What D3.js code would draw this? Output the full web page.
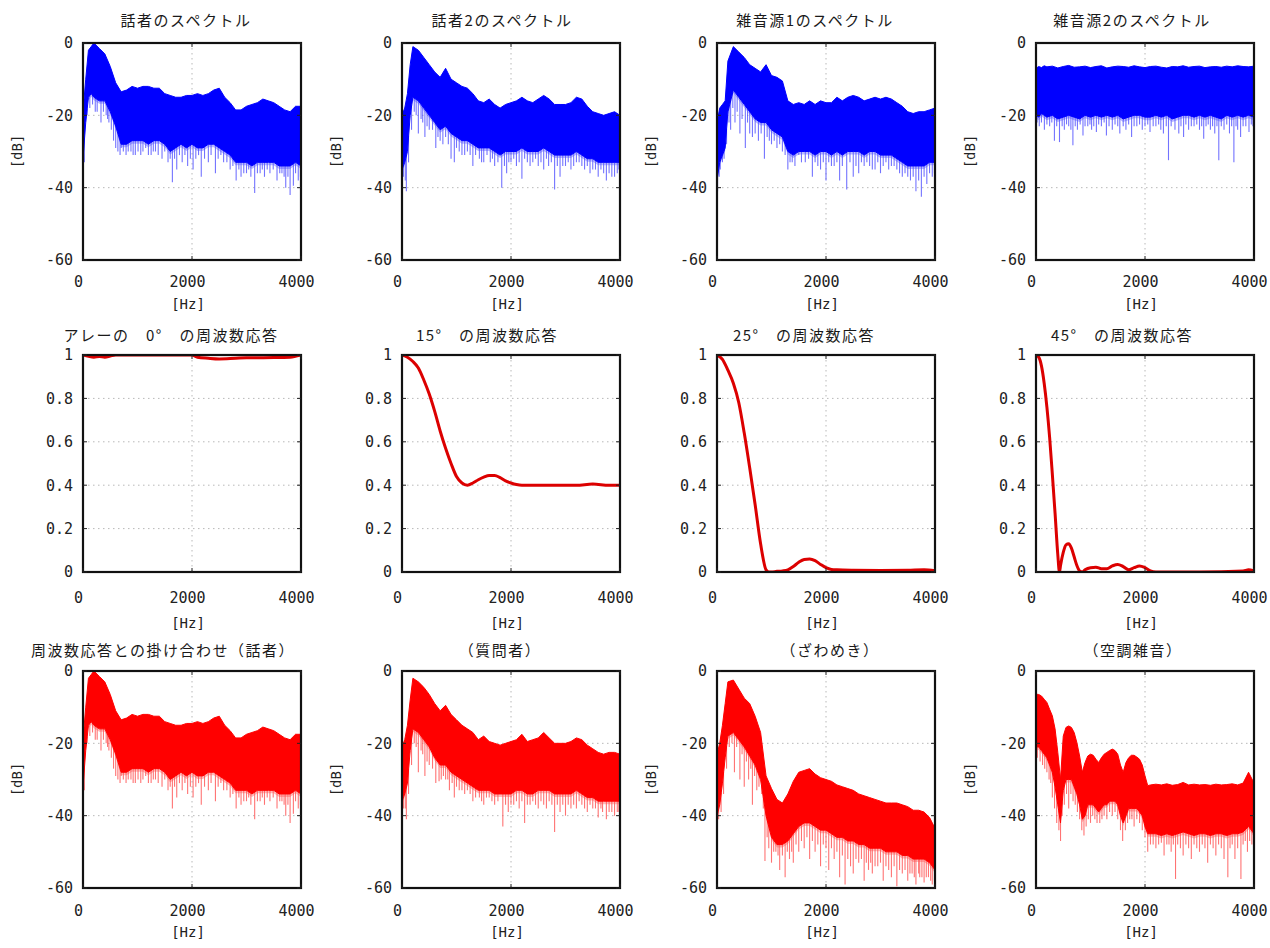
<!DOCTYPE html>
<html lang="ja">
<head>
<meta charset="utf-8">
<title>マイクロホンアレーの周波数応答とスペクトル</title>
<script src="https://cdn.jsdelivr.net/npm/d3@7/dist/d3.min.js"></script>
<style>
  html, body { margin: 0; padding: 0; background: #fff; }
  svg { display: block; }
  .title { font-family: "Noto Sans CJK JP", sans-serif; font-size: 15px; letter-spacing: 1.5px; fill: #1a1a1a; }
  .tick text { font-family: "DejaVu Sans Mono", monospace; font-size: 15px; fill: #222; }
  .unit { font-family: "DejaVu Sans Mono", monospace; font-size: 14px; fill: #222; }
</style>
</head>
<body>
<svg id="fig" width="1270" height="948"></svg>
<script>
// ---------- axes ----------
const freqDomain = [0, 4000];
const freqTicks = [0, 2000, 4000];
const dbDomain = [-60, 0];
const dbTicks = [-60, -40, -20, 0];
const respDomain = [0, 1];
const respTicks = [0, 0.2, 0.4, 0.6, 0.8, 1];

// ---------- frequency grids (Hz) ----------
const freqGrid = [0,50,100,150,200,300,400,500,600,700,800,900,1000,1100,1200,1300,1400,1500,1600,1700,1800,1900,2000,2100,2200,2300,2400,2500,2600,2700,2800,2900,3000,3100,3200,3300,3400,3500,3600,3700,3800,3900,4000];
const freqGridFine = [0,50,100,150,200,250,300,350,400,450,500,550,600,650,700,750,800,850,900,950,1000,1050,1100,1150,1200,1250,1300,1350,1400,1450,1500,1550,1600,1650,1700,1750,1800,1850,1900,1950,2000,2050,2100,2200,2300,2400,2500,2600,2700,2800,2900,3000,3100,3200,3300,3400,3500,3600,3700,3800,3900,4000];

// ---------- spectra: upper edge / dense lower edge (dB) and dips below it [Hz, dB] ----------
// 話者
const spk1Hi = [-19,-10,-2,-1,0,-1.5,-3,-6.5,-11,-13.5,-13,-12,-12.5,-12,-12,-12.5,-12.5,-14,-14.5,-15,-15,-14.5,-14.5,-14,-14.5,-14,-13,-12.5,-15,-16.5,-18.5,-18.5,-17.5,-17,-16.5,-15.5,-16,-16.5,-17.5,-18.5,-19,-17.5,-17.5];
const spk1Lo = [-32,-22,-15,-14,-15,-16,-16,-19,-23,-28,-28,-27,-27,-27,-28,-27,-27,-28,-30,-29,-28,-29,-28,-29,-29,-28,-28,-29,-30,-31,-33,-33,-33,-34,-33,-33,-33,-33,-34,-34,-34,-33,-34];
const spk1Dips = [[25,-33],[75,-20],[125,-18],[175,-17],[225,-19],[260,-19],[330,-22],[375,-19],[425,-20],[450,-21],[475,-22],[520,-24],[560,-27],[600,-29],[640,-30],[680,-31],[700,-29],[740,-30],[790,-31],[830,-30],[880,-30],[920,-31],[960,-31],[1010,-30],[1060,-31],[1100,-30],[1150,-29],[1200,-31],[1250,-31],[1290,-30],[1330,-30],[1380,-31],[1450,-32],[1500,-30],[1560,-33],[1600,-32],[1640,-38.5],[1680,-32],[1720,-35],[1770,-31],[1820,-33],[1870,-31],[1920,-34],[1970,-32],[2020,-35],[2070,-32],[2120,-31],[2170,-37],[2230,-32],[2300,-33],[2350,-31],[2430,-36],[2480,-32],[2530,-31],[2580,-33],[2640,-33],[2700,-35],[2750,-34],[2810,-38],[2860,-35],[2900,-37],[2950,-36],[3000,-36],[3040,-35],[3080,-37],[3150,-41.5],[3200,-36],[3250,-36],[3290,-35],[3330,-37],[3380,-35],[3430,-36],[3490,-35],[3560,-38],[3610,-36],[3650,-36],[3690,-37],[3720,-40],[3760,-37],[3800,-42],[3860,-39.5],[3900,-36],[3950,-38],[3990,-37]];

// 話者2
const spk2Hi = [-20,-18,-14,-6,-1,-2,-4,-6,-8,-9.5,-7,-10,-11,-12,-12.5,-14,-16,-16.5,-15.5,-17,-18,-17,-16.5,-16,-15,-16,-16.5,-15.5,-14.5,-15.5,-17,-17,-17,-16.5,-15,-15.5,-17.5,-19,-19.5,-20,-19.5,-19,-20];
const spk2Lo = [-35,-33,-30,-20,-15,-16,-18,-20,-22,-24,-23,-25,-26,-27,-27,-28,-29,-29,-29,-30,-31,-30,-30,-30,-29,-30,-30,-30,-29,-30,-31,-31,-31,-31,-30,-31,-32,-32,-33,-33,-33,-33,-33];
const spk2Dips = [[25,-37],[60,-38],[80,-41],[120,-33],[175,-24],[225,-19],[260,-20],[300,-25],[350,-21],[380,-22],[420,-26],[460,-23],[500,-24],[560,-24],[620,-29],[660,-26],[700,-27],[750,-28],[800,-26],[850,-28],[900,-32],[960,-33],[1000,-29],[1050,-30],[1100,-31],[1150,-31],[1200,-30],[1250,-31],[1300,-34],[1350,-31],[1420,-32],[1460,-33],[1500,-33],[1560,-31],[1620,-33],[1660,-32],[1700,-34],[1760,-33],[1830,-40],[1880,-34],[1920,-36],[1960,-33],[2000,-33],[2050,-32],[2100,-34],[2150,-33],[2200,-37.5],[2250,-32],[2300,-33],[2350,-34],[2400,-33],[2450,-32],[2500,-34],[2550,-33],[2600,-35],[2650,-32],[2690,-34],[2740,-33],[2800,-40.5],[2850,-34],[2900,-37],[2950,-34],[3000,-34],[3050,-33],[3100,-35],[3150,-34],[3200,-33],[3250,-33],[3300,-34],[3350,-35],[3400,-34],[3450,-36],[3500,-35],[3550,-35],[3600,-37],[3650,-35],[3700,-36],[3750,-38],[3800,-36],[3850,-37],[3900,-37],[3950,-36],[3980,-35]];

// 雑音源1
const noise1Hi = [-22,-18,-17,-16,-5,-1,-2.5,-4,-6,-7,-8,-6,-9,-9.5,-10.5,-16,-17,-16.5,-17,-16,-17,-16,-16.5,-16.5,-15,-16,-15,-14.5,-15,-16,-15.5,-15,-15.5,-15,-15.5,-16.5,-17.5,-19,-19.5,-19,-19,-18.5,-18];
const noise1Lo = [-38,-33,-31,-29,-19,-13,-15,-17,-19,-21,-22,-22,-24,-25,-26,-30,-31,-30,-30,-30,-31,-30,-30,-31,-30,-31,-30,-30,-30,-31,-30,-30,-31,-31,-31,-32,-33,-34,-34,-34,-34,-33,-33];
const noise1Dips = [[10,-41],[40,-37],[60,-35],[100,-33],[130,-32],[175,-28],[220,-22],[250,-24],[290,-18],[330,-22],[370,-19],[420,-25],[460,-21],[520,-29],[560,-22],[600,-25],[650,-26],[700,-25],[760,-27],[810,-25],[870,-32],[920,-26],[960,-27],[1000,-28],[1050,-27],[1100,-29],[1150,-28],[1200,-30],[1250,-31],[1300,-35],[1340,-33],[1380,-33],[1430,-34],[1500,-31],[1550,-33],[1620,-33],[1680,-32],[1750,-37],[1800,-33],[1850,-34],[1900,-35],[1950,-33],[2000,-38],[2050,-33],[2100,-34],[2150,-34],[2200,-33],[2250,-38],[2300,-34],[2380,-40.5],[2440,-33],[2500,-37],[2550,-34],[2600,-36],[2650,-33],[2700,-34],[2750,-33],[2800,-34],[2850,-35],[2900,-35],[2950,-33],[3000,-36],[3050,-34],[3100,-33],[3150,-35],[3200,-34],[3250,-34],[3300,-35],[3350,-36],[3400,-37],[3450,-36],[3500,-37],[3550,-38],[3600,-37],[3650,-41],[3700,-38],[3750,-42.5],[3800,-37],[3850,-39],[3900,-36],[3950,-37],[3990,-36]];

// 雑音源2
const noise2Hi = [-7.0,-6.5,-6.8,-6.3,-6.6,-6.4,-6.9,-6.5,-6.2,-6.7,-6.6,-6.4,-6.8,-6.5,-6.3,-6.9,-6.6,-6.4,-6.5,-6.7,-6.3,-6.6,-6.8,-6.5,-6.4,-6.7,-6.9,-6.5,-6.6,-6.3,-6.7,-6.5,-6.4,-6.8,-6.6,-6.5,-6.7,-6.4,-6.6,-6.3,-6.5,-6.6,-6.4];
const noise2Lo = [-20,-20.5,-19.5,-20,-20.5,-20,-21,-20.5,-20,-20.5,-21,-20,-20.5,-20,-20.5,-20,-20.5,-20,-21,-20.5,-20,-20,-20.5,-20.5,-20,-20.5,-20,-21,-20.5,-20,-20,-20.5,-20,-20.5,-20,-20.5,-21,-20,-20.5,-20,-20.5,-20,-20.5];
const noise2Dips = [[20,-22],[60,-23],[100,-22],[154,-24],[200,-22.5],[250,-23],[290,-22],[338,-27],[380,-23],[431,-27.4],[480,-23],[520,-24],[560,-22.5],[600,-23],[640,-24],[677,-28.3],[720,-23],[760,-24],[810,-22.5],[862,-25.6],[900,-23],[950,-23],[990,-22.5],[1020,-24],[1060,-23],[1108,-24.6],[1150,-22.5],[1200,-23],[1250,-22],[1292,-25.6],[1340,-23],[1400,-24],[1450,-22.5],[1500,-23],[1538,-25],[1600,-23],[1650,-24],[1700,-22.5],[1754,-26],[1800,-23],[1850,-23],[1900,-22.5],[1950,-24],[2000,-23],[2050,-22.5],[2092,-24.6],[2150,-23],[2200,-23],[2250,-22.5],[2290,-24],[2338,-25],[2390,-23],[2431,-32.4],[2480,-23],[2550,-24],[2620,-25],[2660,-23],[2708,-26],[2750,-22.5],[2800,-24],[2850,-23],[2900,-23],[2950,-22.5],[3000,-24],[3040,-23],[3077,-26.5],[3120,-23],[3160,-22.5],[3200,-24],[3240,-23],[3280,-25],[3320,-23],[3354,-32.4],[3400,-23],[3450,-24],[3500,-22.5],[3550,-25],[3590,-23],[3631,-33],[3670,-23],[3700,-24],[3754,-26],[3800,-23],[3850,-23],[3908,-24.6],[3950,-22.5],[3980,-23]];

// ---------- array frequency responses (linear gain) ----------
const resp0Freq = [0,100,200,300,400,500,600,2000,2100,2300,2500,2800,3000,3500,3800,4000];
const resp0 = [1,0.994,0.99,0.993,0.99,0.995,1,1,0.99,0.985,0.982,0.985,0.987,0.988,0.99,1];
const resp15Freq = [0,100,200,300,400,500,600,700,800,900,1000,1100,1200,1300,1400,1500,1600,1700,1800,1900,2000,2100,2200,2400,2800,3200,3500,3800,4000];
const resp15 = [1.0,0.99,0.97,0.94,0.885,0.82,0.74,0.65,0.57,0.5,0.44,0.41,0.40,0.41,0.425,0.437,0.445,0.445,0.435,0.42,0.41,0.403,0.40,0.40,0.40,0.40,0.405,0.40,0.40];
const resp25Freq = [0,100,200,300,400,500,600,700,800,900,950,1000,1100,1200,1300,1400,1500,1600,1700,1800,1900,2000,2100,2200,2500,3000,3500,3800,4000];
const resp25 = [1.0,0.98,0.93,0.87,0.78,0.64,0.48,0.31,0.13,0.01,0.0,0.0,0.003,0.005,0.01,0.025,0.045,0.058,0.06,0.052,0.035,0.02,0.012,0.01,0.008,0.007,0.008,0.01,0.006];
const resp45Freq = [0,50,100,150,200,250,300,350,400,430,450,500,550,600,650,700,750,800,850,900,1000,1100,1200,1300,1400,1500,1600,1700,1800,1900,2000,2100,2200,3000,3800,3900,4000];
const resp45 = [1.0,0.99,0.95,0.87,0.76,0.62,0.45,0.27,0.08,0.0,0.03,0.09,0.125,0.13,0.11,0.07,0.03,0.005,0.0,0.01,0.02,0.022,0.015,0.015,0.028,0.035,0.025,0.01,0.02,0.028,0.02,0.005,0.0,0.0,0.005,0.01,0.005];

// ---------- spectra after weighting by the responses (dB) ----------
// 話者 (0°)
const mul0Hi = [-19,-10,-2,-1,0,-1.5,-3,-6.5,-11,-13.5,-13,-12,-12.5,-12,-12,-12.5,-12.5,-14,-14.5,-15,-15,-14.5,-14.5,-14,-14.5,-14,-13,-12.5,-15,-16.5,-18.5,-18.5,-17.5,-17,-16.5,-15.5,-16,-16.5,-17.5,-18.5,-19,-17.5,-17.5];
const mul0Lo = [-32,-22,-15,-14,-15,-16,-16,-19,-23,-28,-28,-27,-27,-27,-28,-27,-27,-28,-30,-29,-28,-29,-28,-29,-29,-28,-28,-29,-30,-31,-33,-33,-33,-34,-33,-33,-33,-33,-34,-34,-34,-33,-34];
const mul0Dips = [[25,-33],[75,-20],[125,-18],[175,-17],[225,-19],[260,-19],[330,-22],[375,-19],[425,-20],[450,-21],[475,-22],[520,-24],[560,-27],[600,-29],[640,-30],[680,-31],[700,-29],[740,-30],[790,-31],[830,-30],[880,-30],[920,-31],[960,-31],[1010,-30],[1060,-31],[1100,-30],[1150,-29],[1200,-31],[1250,-31],[1290,-30],[1330,-30],[1380,-31],[1450,-32],[1500,-30],[1560,-33],[1600,-32],[1640,-38],[1680,-32],[1720,-35],[1770,-31],[1820,-33],[1870,-31],[1920,-34],[1970,-32],[2020,-35],[2070,-32],[2120,-31],[2170,-37],[2230,-32],[2300,-33],[2350,-31],[2430,-36],[2480,-32],[2530,-31],[2580,-33],[2640,-33],[2700,-35],[2750,-34],[2810,-38],[2860,-35],[2900,-37],[2950,-36],[3000,-36],[3040,-35],[3080,-37],[3150,-41],[3200,-36],[3250,-36],[3290,-35],[3330,-37],[3380,-35],[3430,-36],[3490,-35],[3560,-38],[3610,-36],[3650,-36],[3690,-37],[3720,-40],[3760,-37],[3800,-42],[3860,-39.5],[3900,-36],[3950,-38],[3990,-37]];

// 質問者 (15°)
const mul15Hi = [-21,-19,-15,-8,-2,-3,-4.5,-6.5,-9,-11,-9.5,-12,-13.5,-15,-16,-17,-19,-18,-19.5,-20,-20.5,-20,-19.5,-19,-17.5,-19.5,-19,-18.5,-17,-18.5,-20,-20,-20,-19.5,-18.5,-19,-20.5,-21.5,-22.5,-23,-22.5,-22.5,-23];
const mul15Lo = [-36,-34,-31,-22,-16,-17,-19,-21,-24,-26,-26,-28,-29,-30,-31,-32,-33,-33,-33,-34,-34,-34,-34,-33,-33,-34,-34,-33,-33,-33,-34,-34,-34,-34,-33,-34,-35,-35,-36,-36,-36,-36,-36];
const mul15Dips = [[25,-38],[60,-38],[80,-41],[120,-34],[175,-26],[225,-20],[260,-21],[300,-28],[350,-22],[380,-23],[420,-29],[460,-25],[500,-26],[560,-27],[620,-31],[680,-30.5],[720,-30],[760,-29],[800,-30],[840,-30],[870,-33],[920,-31],[960,-35],[1000,-32],[1050,-33],[1100,-33],[1150,-34],[1200,-33],[1250,-34],[1300,-36],[1350,-35],[1420,-35],[1460,-36],[1500,-37],[1550,-35],[1600,-35],[1650,-36],[1700,-37],[1760,-36],[1850,-43],[1900,-37],[1950,-39],[2000,-37],[2050,-37],[2100,-36],[2150,-38],[2200,-36],[2250,-42],[2300,-37],[2350,-37],[2400,-36],[2450,-37],[2500,-38],[2550,-36],[2600,-37],[2650,-38],[2700,-36],[2750,-37],[2800,-44.5],[2850,-37],[2900,-39],[2950,-37],[3000,-40],[3050,-37],[3100,-38],[3150,-37],[3200,-38],[3250,-36],[3300,-37],[3350,-38],[3400,-39],[3450,-37],[3500,-38],[3550,-38],[3600,-40.5],[3650,-38],[3680,-39],[3750,-41],[3800,-39],[3850,-39],[3900,-40],[3950,-39],[3980,-39]];

// ざわめき (25°)
const mul25Hi = [-23,-20,-15,-9,-3,-2.5,-5,-7.5,-9,-12.5,-17,-29,-32.5,-35.5,-36.5,-34,-30.5,-28,-27.5,-27,-28.5,-29.5,-30,-30.5,-31.5,-32,-32.5,-33,-34,-34.5,-35,-35.5,-36,-36.5,-36.5,-36.5,-37,-37.5,-38.5,-38.5,-39,-40.5,-43.5];
const mul25Lo = [-40,-37,-31,-24,-18,-17,-19,-21,-23.5,-26,-30,-40,-46,-48,-48,-47,-45,-43,-42,-42,-43,-44,-44,-45,-46,-46,-47,-47,-48,-48,-49,-49,-49,-50,-50,-50,-51,-51,-52,-52,-52,-53,-55];
const mul25Dips = [[0,-42],[30,-41],[75,-39],[120,-34],[175,-27],[225,-21],[275,-20],[320,-28],[360,-21],[420,-30],[460,-23],[500,-32],[540,-25],[580,-30],[620,-27],[650,-37],[690,-29],[730,-33],[770,-32],[820,-34],[850,-38],[880,-52.5],[920,-46],[950,-49],[1000,-53],[1040,-50],[1080,-50],[1120,-51],[1150,-55],[1200,-51],[1250,-57],[1290,-50],[1330,-52],[1370,-50],[1400,-53],[1450,-48],[1500,-50],[1550,-47],[1600,-49],[1650,-46],[1700,-52],[1750,-47],[1800,-50],[1850,-48],[1900,-54],[1950,-48],[2000,-49],[2050,-55],[2100,-49],[2150,-52],[2200,-50],[2250,-57],[2300,-51],[2350,-59],[2400,-52],[2450,-54],[2500,-56],[2550,-52],[2600,-53],[2650,-52],[2700,-58],[2740,-53],[2780,-55],[2820,-53],[2850,-56],[2900,-54],[2950,-54],[3000,-53],[3050,-58],[3100,-54],[3150,-55],[3200,-57],[3250,-54],[3300,-59.5],[3350,-55],[3400,-56],[3450,-55],[3500,-58],[3540,-56],[3580,-56],[3620,-57],[3650,-59],[3700,-56],[3720,-57],[3760,-57],[3800,-58.5],[3840,-57],[3880,-57],[3920,-58],[3950,-59],[3990,-58]];

// 空調雑音 (45°)
const mul45Hi = [-6.4,-6.5,-6.9,-7.8,-8.7,-10.6,-12.4,-16,-22.5,-30,-18,-15.6,-15.2,-15.6,-17,-19.8,-23.5,-28,-25.3,-23.5,-23,-23.3,-24.4,-25.3,-24,-23,-22.5,-22,-21.6,-22,-23,-26,-28,-25.3,-24,-23.3,-23.3,-23.8,-24.4,-26,-29,-31.7,-31.5,-31.3,-31.5,-31.2,-31.6,-31.4,-30.8,-31.5,-31.3,-31.5,-31.4,-31.6,-31.3,-31.5,-31.4,-31.2,-31.5,-31,-28,-31];
const mul45Lo = [-21,-21,-22,-23,-24,-26,-28,-32,-37,-42,-33,-30,-30,-30,-32,-34,-37,-41,-40,-37,-37,-37,-38,-39,-38,-37,-37,-36,-36,-36,-37,-40,-42,-40,-38,-38,-38,-38,-39,-40,-43,-45,-45,-45,-45.5,-45,-45.5,-45,-44.5,-45,-45.5,-45,-45,-45.5,-45,-45,-45.5,-45,-45,-44.5,-43,-45];
const mul45Dips = [[25,-24],[75,-25],[120,-26],[160,-27],[200,-28],[240,-30],[270,-31],[300,-35],[340,-38],[380,-42],[420,-44],[450,-47],[480,-40],[520,-37],[560,-34],[600,-38],[640,-34],[680,-36],[720,-37],[760,-39],[800,-41],[840,-44],[880,-45.5],[920,-43],[960,-41],[1000,-42],[1040,-40],[1080,-41],[1120,-42],[1170,-42],[1210,-41],[1250,-40],[1300,-41],[1350,-39],[1400,-40],[1450,-39],[1500,-41],[1550,-44],[1590,-47],[1640,-44],[1680,-42],[1720,-41],[1760,-41],[1800,-43],[1850,-41],[1900,-42],[1950,-44],[2000,-46],[2050,-50],[2100,-48],[2150,-48],[2200,-49],[2250,-48],[2300,-47.5],[2350,-51],[2400,-48],[2440,-48],[2480,-50],[2520,-48],[2560,-57.5],[2600,-48],[2650,-49],[2700,-51],[2750,-48],[2800,-49],[2850,-52],[2900,-48],[2950,-49],[3000,-50],[3050,-48],[3100,-49],[3150,-53],[3200,-48],[3250,-49],[3300,-51],[3350,-48],[3400,-49],[3450,-52],[3520,-57],[3560,-49],[3600,-48],[3650,-52],[3700,-49],[3760,-57.5],[3800,-48],[3840,-47],[3880,-50],[3920,-47],[3960,-48],[3990,-48]];

// ---------- layout ----------
const colLeft = [83, 402, 717, 1036];
const rowTop = [43, 355, 671];
const plotW = 218, plotH = 217;
const titleBaseline = [26, 341, 656];
const titleCenter = [[186, 502, 815, 1132], [171, 487, 804, 1122], [163, 500, 830, 1133]];
const xTickBaseline = [27, 31, 28];   // below the plot bottom
const hzBaseline = [49, 56, 49];      // below the plot bottom

const BLUE = '#0000ff', BLUE_DIP = '#5050ff';
const RED = '#ff0000', RED_DIP = '#ff5050';
const RESP_RED = '#dc0000';

const panels = [
  { row: 0, col: 0, type: 'db', title: '話者のスペクトル', freq: freqGrid, hi: spk1Hi, lo: spk1Lo, dips: spk1Dips, color: BLUE, dip: BLUE_DIP },
  { row: 0, col: 1, type: 'db', title: '話者2のスペクトル', freq: freqGrid, hi: spk2Hi, lo: spk2Lo, dips: spk2Dips, color: BLUE, dip: BLUE_DIP },
  { row: 0, col: 2, type: 'db', title: '雑音源1のスペクトル', freq: freqGrid, hi: noise1Hi, lo: noise1Lo, dips: noise1Dips, color: BLUE, dip: BLUE_DIP },
  { row: 0, col: 3, type: 'db', title: '雑音源2のスペクトル', freq: freqGrid, hi: noise2Hi, lo: noise2Lo, dips: noise2Dips, color: BLUE, dip: BLUE_DIP },
  { row: 1, col: 0, type: 'resp', title: 'アレーの　0°　の周波数応答', freq: resp0Freq, vals: resp0 },
  { row: 1, col: 1, type: 'resp', title: '15°　の周波数応答', freq: resp15Freq, vals: resp15 },
  { row: 1, col: 2, type: 'resp', title: '25°　の周波数応答', freq: resp25Freq, vals: resp25 },
  { row: 1, col: 3, type: 'resp', title: '45°　の周波数応答', freq: resp45Freq, vals: resp45 },
  { row: 2, col: 0, type: 'db', title: '周波数応答との掛け合わせ（話者）', freq: freqGrid, hi: mul0Hi, lo: mul0Lo, dips: mul0Dips, color: RED, dip: RED_DIP },
  { row: 2, col: 1, type: 'db', title: '（質問者）', freq: freqGrid, hi: mul15Hi, lo: mul15Lo, dips: mul15Dips, color: RED, dip: RED_DIP },
  { row: 2, col: 2, type: 'db', title: '（ざわめき）', freq: freqGrid, hi: mul25Hi, lo: mul25Lo, dips: mul25Dips, color: RED, dip: RED_DIP },
  { row: 2, col: 3, type: 'db', title: '（空調雑音）', freq: freqGridFine, hi: mul45Hi, lo: mul45Lo, dips: mul45Dips, color: RED, dip: RED_DIP }
];

const svg = d3.select('#fig');
const defs = svg.append('defs');
const label = v => String(v);

panels.forEach((p, i) => {
  const left = colLeft[p.col], top = rowTop[p.row];
  const g = svg.append('g').attr('transform', `translate(${left},${top})`);
  const isDb = p.type === 'db';
  const x = d3.scaleLinear().domain(freqDomain).range([0, plotW]);
  const y = d3.scaleLinear().domain(isDb ? dbDomain : respDomain).range([plotH, 0]);
  const yTicks = isDb ? dbTicks : respTicks;
  const yDom = y.domain();

  // dotted grid
  const grid = g.append('g').attr('stroke', '#b8b8b8').attr('stroke-width', 1).attr('stroke-dasharray', '1.5,3.5');
  grid.selectAll('line.gx').data(freqTicks.filter(v => v > freqDomain[0] && v < freqDomain[1]))
    .join('line').attr('class', 'gx')
    .attr('x1', d => x(d)).attr('x2', d => x(d)).attr('y1', 0).attr('y2', plotH);
  grid.selectAll('line.gy').data(yTicks.filter(v => v > yDom[0] && v < yDom[1]))
    .join('line').attr('class', 'gy')
    .attr('x1', 0).attr('x2', plotW).attr('y1', d => y(d)).attr('y2', d => y(d));

  // plot body clipped to the axes box
  const clipId = 'clip' + i;
  defs.append('clipPath').attr('id', clipId).append('rect').attr('width', plotW).attr('height', plotH);
  const body = g.append('g').attr('clip-path', `url(#${clipId})`);

  if (isDb) {
    const loAt = d3.scaleLinear().domain(p.freq).range(p.lo);
    // dips hanging below the dense band
    body.append('g').attr('stroke', p.dip).attr('stroke-width', 1.1).attr('stroke-opacity', 0.8)
      .selectAll('line').data(p.dips).join('line')
      .attr('x1', d => x(d[0])).attr('x2', d => x(d[0]))
      .attr('y1', d => y(loAt(d[0])) - 1).attr('y2', d => y(d[1]));
    const pts = p.freq.map((f, k) => ({ f, hi: p.hi[k], lo: p.lo[k] }));
    // soft lower fringe of the band
    body.append('path').datum(pts)
      .attr('d', d3.area().x(d => x(d.f)).y0(d => y(d.lo) + 3).y1(d => y(d.lo)))
      .attr('fill', p.dip).attr('fill-opacity', 0.4);
    // dense band of the spectrum
    body.append('path').datum(pts)
      .attr('d', d3.area().x(d => x(d.f)).y0(d => y(d.lo)).y1(d => y(d.hi)))
      .attr('fill', p.color).attr('stroke', p.color).attr('stroke-width', 1).attr('stroke-linejoin', 'round');
  } else {
    const pts = p.freq.map((f, k) => ({ f, v: p.vals[k] }));
    body.append('path').datum(pts)
      .attr('d', d3.line().x(d => x(d.f)).y(d => y(d.v)).curve(d3.curveMonotoneX))
      .attr('fill', 'none').attr('stroke', RESP_RED).attr('stroke-width', 3)
      .attr('stroke-linejoin', 'round').attr('stroke-linecap', 'round');
  }

  // axes box
  g.append('rect').attr('width', plotW).attr('height', plotH)
    .attr('fill', 'none').attr('stroke', '#111').attr('stroke-width', 2.2);

  // inward tick marks
  const tk = g.append('g').attr('stroke', '#222').attr('stroke-width', 1);
  freqTicks.forEach(v => {
    tk.append('line').attr('x1', x(v)).attr('x2', x(v)).attr('y1', plotH).attr('y2', plotH - 4);
    tk.append('line').attr('x1', x(v)).attr('x2', x(v)).attr('y1', 0).attr('y2', 4);
  });
  yTicks.forEach(v => {
    tk.append('line').attr('x1', 0).attr('x2', 4).attr('y1', y(v)).attr('y2', y(v));
    tk.append('line').attr('x1', plotW).attr('x2', plotW - 4).attr('y1', y(v)).attr('y2', y(v));
  });

  // tick labels
  const yAxis = g.append('g')
    .call(d3.axisLeft(y).tickValues(yTicks).tickSize(0).tickPadding(10).tickFormat(label));
  yAxis.select('.domain').remove();

  const xAxis = g.append('g').attr('transform', `translate(0,${plotH})`)
    .call(d3.axisBottom(x).tickValues(freqTicks).tickSize(0).tickFormat(label));
  xAxis.select('.domain').remove();
  xAxis.selectAll('text').attr('y', xTickBaseline[p.row]).attr('dy', null).attr('dx', -5);

  // unit labels
  g.append('text').attr('class', 'unit').attr('text-anchor', 'middle')
    .attr('x', plotW / 2 - 4).attr('y', plotH + hzBaseline[p.row]).text('[Hz]');
  if (isDb) {
    g.append('text').attr('class', 'unit').attr('text-anchor', 'middle')
      .attr('transform', `translate(-66,${plotH / 2}) rotate(-90)`).attr('dy', '0.35em').text('[dB]');
  }

  // panel title
  svg.append('text').attr('class', 'title').attr('text-anchor', 'middle')
    .attr('x', titleCenter[p.row][p.col]).attr('y', titleBaseline[p.row]).text(p.title);
});
</script>
</body>
</html>
